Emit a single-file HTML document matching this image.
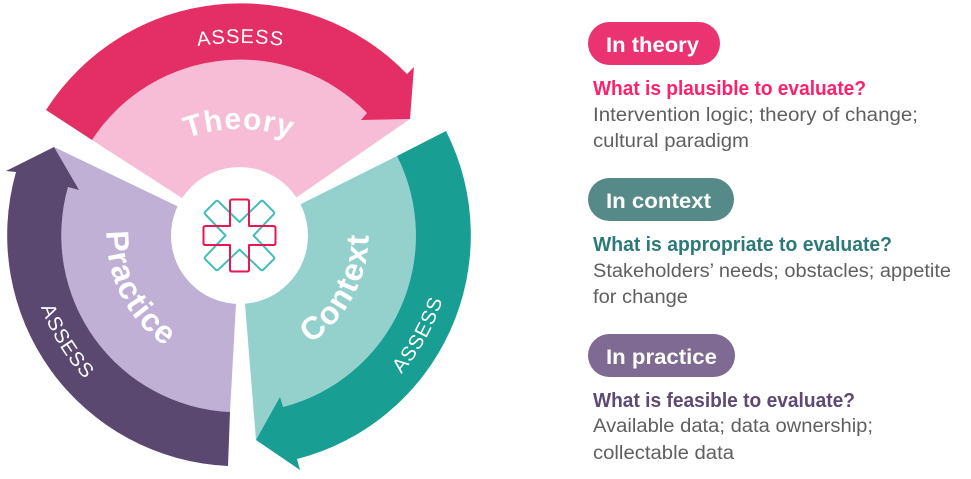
<!DOCTYPE html>
<html lang="en">
<head>
<meta charset="utf-8">
<title>Assess diagram</title>
<style>
html,body{margin:0;padding:0;background:#fff;width:971px;height:479px;overflow:hidden}
svg{display:block}
text{font-family:"Liberation Sans",Arial,sans-serif}
.h{font-weight:700;font-size:20px}
.b{font-size:19px;fill:#5f5f5f}
.p{font-weight:700;font-size:21px;fill:#fff}
.a{font-size:20px;fill:#fff;letter-spacing:1px}
.l{font-weight:700;fill:#fff;font-size:32px;letter-spacing:1.5px}
.t{font-weight:700;fill:#fff;font-size:30px;letter-spacing:1px}
</style>
</head>
<body>
<svg width="971" height="479" viewBox="0 0 971 479" xmlns="http://www.w3.org/2000/svg">
<defs>
<path id="topA" d="M-59.5,343 A300,300 0 0 1 540.5,343"/>
<path id="botA" d="M26.5,235.5 A213,213 0 0 0 452.5,235.5"/>
<path id="botB" d="M28.5,235.5 A211,211 0 0 0 450.5,235.5"/>
<path id="topT" d="M89,279 A150,150 0 0 1 389,279"/>
<path id="botC" d="M110.5,235.5 A129,129 0 0 0 368.5,235.5"/>
<path id="botP" d="M106.5,235.5 A133,133 0 0 0 372.5,235.5"/>
</defs>

<path fill="#f7bcd6" d="M92,140 A177,177 0 0 1 367,113 L361,120 L410,119 L297,197 L239.5,235 L182,198 Z"/>
<path fill="#c1b0d6" d="M54,147 L177,206 L239,235 L236,304 L230,412 A177,177 0 0 1 68,187 Z"/>
<path fill="#94d0cc" d="M397,156 L301,204 L240,235 L245,304 L256,440 L283,407 A177,177 0 0 0 397,156 Z"/>

<path fill="#e32f66" d="M46,110 A231,231 0 0 1 407,74 L414,67 L410,119 L361,120 L367,113 A177,177 0 0 0 92,140 Z"/>
<path fill="#5b4870" d="M228,466 A231,231 0 0 1 16,172 L6,171 L54,147 L79,190 L68,187 A177,177 0 0 0 230,412 Z"/>
<path fill="#189e92" d="M446,131 L397,156 A177,177 0 0 1 283,407 L280,397 L256,440 L300,470 L297,459 A231,231 0 0 0 446,131 Z"/>

<circle cx="239.5" cy="235.5" r="68.5" fill="#fff"/>

<path fill="none" stroke="#45bdb8" stroke-width="2" stroke-linejoin="round" d="M215.5,201.5 Q217,200 218.5,201.5 L239.5,222 L260.5,201.5 Q262,200 263.5,201.5 L273.5,211.5 Q275,213 273.5,214.5 L253.5,235.5 L273.5,256.5 Q275,258 273.5,259.5 L263.5,269.5 Q262,271 260.5,269.5 L239.5,249.5 L218.5,269.5 Q217,271 215.5,269.5 L205.5,259.5 Q204,258 205.5,256.5 L225.5,235.5 L205.5,214.5 Q204,213 205.5,211.5 Z"/>
<path fill="none" stroke="#e8174f" stroke-width="2" stroke-linejoin="round" d="M232,199.5 H247 Q249,199.5 249,201.5 V226 H273.5 Q275.5,226 275.5,228 V243 Q275.5,245 273.5,245 H249 V269.5 Q249,271.5 247,271.5 H232 Q230,271.5 230,269.5 V245 H205.5 Q203.5,245 203.5,243 V228 Q203.5,226 205.5,226 H230 V201.5 Q230,199.5 232,199.5 Z"/>

<text class="a" text-anchor="middle"><textPath href="#topA" startOffset="50%">ASSESS</textPath></text>
<g transform="rotate(-61 239.5 235.5)"><text class="a" text-anchor="middle"><textPath href="#botA" startOffset="50%">ASSESS</textPath></text></g>
<g transform="rotate(58.5 239.5 235.5)"><text class="a" text-anchor="middle"><textPath href="#botB" startOffset="50%">ASSESS</textPath></text></g>

<text class="t" text-anchor="middle"><textPath href="#topT" startOffset="50%">Theory</textPath></text>
<g transform="rotate(-62 239.5 235.5)"><text class="l" text-anchor="middle"><textPath href="#botC" startOffset="50%">Context</textPath></text></g>
<g transform="rotate(62.5 239.5 235.5)"><text class="l" text-anchor="middle"><textPath href="#botP" startOffset="50%">Practice</textPath></text></g>

<rect x="588" y="22" width="132" height="43" rx="21.5" fill="#ea3370"/>
<text class="p" x="606" y="52" textLength="93" lengthAdjust="spacingAndGlyphs">In theory</text>
<text class="h" x="593" y="95" fill="#ff1f6b" textLength="273" lengthAdjust="spacingAndGlyphs">What is plausible to evaluate?</text>
<text class="b" x="593" y="121" textLength="325" lengthAdjust="spacingAndGlyphs">Intervention logic; theory of change;</text>
<text class="b" x="593" y="147" textLength="156" lengthAdjust="spacingAndGlyphs">cultural paradigm</text>

<rect x="588" y="178" width="146" height="43" rx="21.5" fill="#568a88"/>
<text class="p" x="606" y="208" textLength="105" lengthAdjust="spacingAndGlyphs">In context</text>
<text class="h" x="593" y="251" fill="#2c7a78" textLength="299" lengthAdjust="spacingAndGlyphs">What is appropriate to evaluate?</text>
<text class="b" x="593" y="277" textLength="358" lengthAdjust="spacingAndGlyphs">Stakeholders’ needs; obstacles; appetite</text>
<text class="b" x="593" y="303" textLength="95" lengthAdjust="spacingAndGlyphs">for change</text>

<rect x="588" y="334" width="147" height="43" rx="21.5" fill="#7e6a92"/>
<text class="p" x="606" y="364" textLength="111" lengthAdjust="spacingAndGlyphs">In practice</text>
<text class="h" x="593" y="407" fill="#5c4a74" textLength="262" lengthAdjust="spacingAndGlyphs">What is feasible to evaluate?</text>
<text class="b" x="593" y="432" textLength="280" lengthAdjust="spacingAndGlyphs">Available data; data ownership;</text>
<text class="b" x="593" y="459" textLength="141" lengthAdjust="spacingAndGlyphs">collectable data</text>
</svg>
</body>
</html>
